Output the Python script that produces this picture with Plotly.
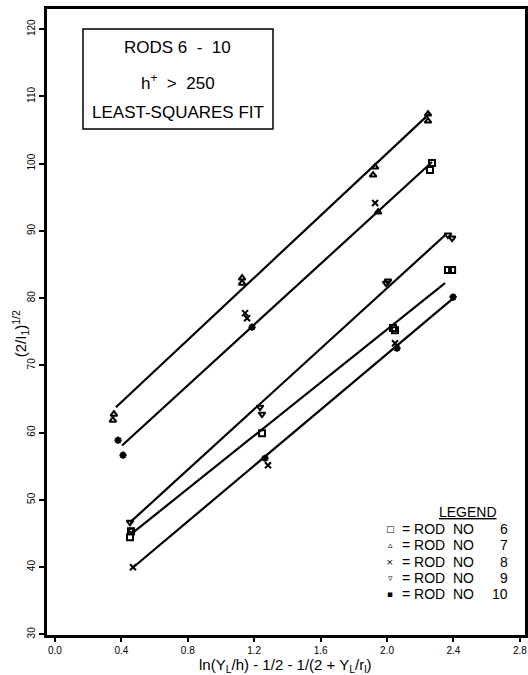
import plotly.graph_objects as go

# ---------------- data ----------------
# least-squares fit lines (one per data group)
fit_x_start = [0.367, 0.404, 0.452, 0.464, 0.470]
fit_x_end = [2.259, 2.271, 2.349, 2.349, 2.398]
fit_slope = [23.12, 22.58, 22.51, 19.75, 20.76]
fit_intercept = [55.29, 48.97, 36.47, 35.85, 30.18]

# measured points by rod
rod6_x = [2.271, 2.259, 0.452, 0.458, 1.247, 2.036, 2.048, 2.367, 2.392]
rod6_y = [100.09, 99.05, 44.43, 45.33, 59.91, 75.54, 75.24, 84.17, 84.17]

rod7_x = [0.349, 0.355, 1.127, 1.127, 1.928, 1.916, 2.247, 2.247, 1.946]
rod7_y = [61.85, 62.74, 82.98, 82.23, 99.49, 98.30, 107.38, 106.34, 92.80]

rod8_x = [1.145, 1.157, 1.928, 1.283, 0.470, 2.048]
rod8_y = [77.77, 77.02, 94.14, 55.15, 39.97, 73.30]

rod9_x = [0.452, 0.458, 1.235, 1.247, 1.994, 2.006, 2.367, 2.392]
rod9_y = [46.67, 45.48, 63.78, 62.74, 82.23, 82.53, 89.38, 88.93]

rod10_x = [0.380, 0.410, 1.187, 1.265, 2.060, 2.398]
rod10_y = [58.87, 56.64, 75.68, 56.19, 72.56, 80.15]

rod_numbers = ["6", "7", "8", "9", "10"]
rod_symbols = ["square-open", "triangle-up-open", "x-thin-open", "triangle-down-open", "asterisk-open"]
legend_glyphs = ["\u25a1", "\u25b5", "\u00d7", "\u25bf", "\u25aa"]

x_tickvals = [0.0, 0.4, 0.8, 1.2, 1.6, 2.0, 2.4, 2.8]
x_ticktext = ["0.0", "0.4", "0.8", "1.2", "1.6", "2.0", "2.4", "2.8"]
y_tickvals = [30, 40, 50, 60, 70, 80, 90, 100, 110, 120]
y_ticktext = [str(v) for v in y_tickvals]

box_lines = ["RODS 6  -  10", "h<sup>+</sup>  >  250", "LEAST-SQUARES FIT"]
x_title = "ln(Y<sub>L</sub>/h) - 1/2 - 1/(2 + Y<sub>L</sub>/r<sub>l</sub>)"
y_title = "(2/I<sub>1</sub>)<sup>1/2</sup>"

# ---------------- figure ----------------
fig = go.Figure()

for xs, xe, m, b in zip(fit_x_start, fit_x_end, fit_slope, fit_intercept):
    fig.add_trace(go.Scatter(
        x=[xs, xe], y=[b + m * xs, b + m * xe], mode="lines",
        line=dict(color="black", width=2.2), showlegend=False, hoverinfo="skip"))

rod_x = [rod6_x, rod7_x, rod8_x, rod9_x, rod10_x]
rod_y = [rod6_y, rod7_y, rod8_y, rod9_y, rod10_y]
for xs, ys, sym, num in zip(rod_x, rod_y, rod_symbols, rod_numbers):
    fig.add_trace(go.Scatter(
        x=xs, y=ys, mode="markers", name="ROD NO " + num,
        marker=dict(symbol=sym, size=6, color="black",
                    line=dict(color="black", width=2)),
        showlegend=False))

FONT = "Liberation Sans"

# title box
fig.add_shape(type="rect", xref="paper", yref="paper",
              x0=0.0753, x1=0.4728, y0=0.8083, y1=0.968,
              line=dict(color="black", width=1.5))
for txt, yy in zip(box_lines, [0.939, 0.884, 0.834]):
    fig.add_annotation(text=txt.replace("  ", "\u00a0\u00a0"), xref="paper", yref="paper",
                       x=0.274, y=yy, showarrow=False, xanchor="center", yanchor="middle",
                       font=dict(family=FONT, size=17, color="black"))

# legend block
fig.add_annotation(text="<u>LEGEND</u>", xref="paper", yref="paper",
                   x=0.816, y=0.196, showarrow=False, xanchor="left",
                   yanchor="middle", font=dict(family=FONT, size=14, color="black"))
row_y = [0.170, 0.144, 0.117, 0.091, 0.065]
for glyph, num, yy in zip(legend_glyphs, rod_numbers, row_y):
    fig.add_annotation(text=glyph, xref="paper", yref="paper", x=0.718, y=yy,
                       showarrow=False, xanchor="center", yanchor="middle",
                       font=dict(family="DejaVu Sans", size=9, color="black"))
    fig.add_annotation(text="=\u00a0ROD\u00a0\u00a0NO", xref="paper", yref="paper",
                       x=0.738, y=yy, showarrow=False, xanchor="left",
                       yanchor="middle", font=dict(family=FONT, size=14, color="black"))
    fig.add_annotation(text=num, xref="paper", yref="paper", x=0.968, y=yy,
                       showarrow=False, xanchor="right", yanchor="middle",
                       font=dict(family=FONT, size=14, color="black"))

# axis titles
fig.add_annotation(text=x_title, xref="paper", yref="paper", x=0.498, y=-0.048,
                   showarrow=False, xanchor="center", yanchor="middle",
                   font=dict(family=FONT, size=15, color="black"))
fig.add_annotation(text=y_title, xref="paper", yref="paper", x=-0.0565, y=0.482,
                   showarrow=False, xanchor="center", yanchor="middle", textangle=-90,
                   font=dict(family=FONT, size=15, color="black"))

fig.update_xaxes(
    range=[-0.048, 2.831], tickvals=x_tickvals, ticktext=x_ticktext,
    ticks="outside", ticklen=4, tickwidth=1.5, tickcolor="black",
    showline=True, linecolor="black", linewidth=2.5, mirror=True,
    showgrid=False, zeroline=False, automargin=False,
    tickfont=dict(family=FONT, size=10, color="black"))
fig.update_yaxes(
    range=[29.9, 123.0], tickvals=y_tickvals, ticktext=y_ticktext,
    ticks="outside", ticklen=5, tickwidth=1.5, tickcolor="black", tickangle=-90,
    showline=True, linecolor="black", linewidth=2.5, mirror=True,
    showgrid=False, zeroline=False, automargin=False,
    tickfont=dict(family=FONT, size=10, color="black"))

fig.update_layout(
    width=528, height=675,
    margin=dict(l=47, r=3, t=9, b=40, pad=0),
    plot_bgcolor="white", paper_bgcolor="white",
    showlegend=False,
)

fig.write_html("out.html", config={"displayModeBar": False},
               post_script="document.body.style.margin='0';document.body.style.overflow='hidden';")
